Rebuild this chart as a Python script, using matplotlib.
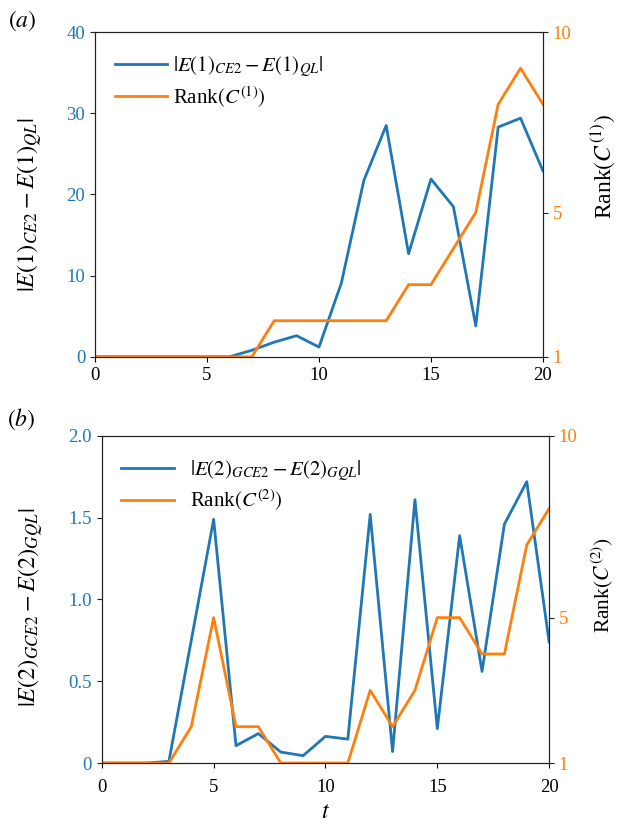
import matplotlib
matplotlib.use('Agg')
import matplotlib.pyplot as plt
from matplotlib.ticker import FuncFormatter

plt.rcParams['font.family'] = ['Liberation Serif', 'DejaVu Serif']
plt.rcParams['mathtext.fontset'] = 'stix'

t = list(range(21))

# panel (a)
err1 = [0, 0, 0, 0, 0, 0, 0, 0.8, 1.8, 2.6, 1.2, 9.1, 21.7, 28.5, 12.7, 21.9, 18.5, 3.8, 28.3, 29.4, 22.9]
rank1 = [1, 1, 1, 1, 1, 1, 1, 1, 2, 2, 2, 2, 2, 2, 3, 3, 4, 5, 8, 9, 8]

# panel (b)
err2 = [0, 0, 0, 0.01, 0.75, 1.49, 0.106, 0.18, 0.067, 0.045, 0.163, 0.146, 1.52, 0.07, 1.61, 0.21, 1.39, 0.56, 1.46, 1.72, 0.74]
rank2 = [1, 1, 1, 1, 2, 5, 2, 2, 1, 1, 1, 1, 3, 2, 3, 5, 5, 4, 4, 7, 8]

blue = '#1f77b4'
orange = '#ff7f0e'

fig = plt.figure(figsize=(6.17, 8.24), dpi=100)
ax1 = fig.add_axes([0.154, 0.567, 0.726, 0.394])
ax2 = fig.add_axes([0.165, 0.074, 0.725, 0.397])


def draw_panel(ax, err, rank, ymax, yticks, ylab, lab_err, lab_rank, rlab, tag, tag_xy):
    l1, = ax.plot(t, err, color=blue, lw=2, label=lab_err)
    ax.set_xlim(0, 20)
    ax.set_ylim(0, ymax)
    ax.set_xticks([0, 5, 10, 15, 20])
    ax.set_yticks(yticks)
    ax.tick_params(axis='y', colors=blue, labelsize=13.5)
    ax.tick_params(axis='x', labelsize=13.5)
    ax.set_ylabel(ylab, fontsize=17.5)

    axr = ax.twinx()
    l2, = axr.plot(t, rank, color=orange, lw=2, label=lab_rank)
    axr.set_ylim(1, 10)
    axr.set_yticks([1, 5, 10])
    axr.tick_params(axis='y', colors=orange, labelsize=13.5)
    axr.set_ylabel(rlab, fontsize=17)
    for a in (ax, axr):
        for s in a.spines.values():
            s.set_color('#222222')
    ax.tick_params(axis='y', color='#222222')
    axr.tick_params(axis='y', color='#222222')
    ax.text(tag_xy[0], tag_xy[1], tag, transform=ax.transAxes, fontsize=17, ha='left', va='center')
    return axr, l1, l2


axr1, a1, a2 = draw_panel(ax1, err1, rank1, 40, [0, 10, 20, 30, 40],
                          r'$|E(1)_{CE2} - E(1)_{QL}|$',
                          r'$|E(1)_{CE2} - E(1)_{QL}|$', r'Rank$(C^{(1)})$',
                          r'Rank$(C^{(1)})$', r'$(a)$', (-0.195, 1.035))
ax1.legend(handles=[a1, a2], loc='upper left', frameon=False, fontsize=15,
           handlelength=2.5, handletextpad=0.3, labelspacing=0.25,
           bbox_to_anchor=(0.002, 0.99))
ax1.yaxis.set_label_coords(-0.112, 0.468)
axr1.yaxis.set_label_coords(1.104, 0.585)

axr2, b1, b2 = draw_panel(ax2, err2, rank2, 2.0, [0, 0.5, 1.0, 1.5, 2.0],
                          r'$|E(2)_{GCE2} - E(2)_{GQL}|$',
                          r'$|E(2)_{GCE2} - E(2)_{GQL}|$', r'Rank$(C^{(2)})$',
                          r'Rank$(C^{(2)})$', r'$(b)$', (-0.213, 1.05))
ax2.legend(handles=[b1, b2], loc='upper left', frameon=False, fontsize=15,
           handlelength=2.5, handletextpad=0.8, labelspacing=0.25,
           bbox_to_anchor=(0.002, 0.99))
ax2.yaxis.set_major_formatter(FuncFormatter(lambda v, p: '0' if v == 0 else f'{v:.1f}'))
ax2.tick_params(axis='x', pad=8)
ax2.set_xlabel(r'$t$', fontsize=17, labelpad=4)
ax2.yaxis.set_label_coords(-0.125, 0.477)
axr2.yaxis.set_label_coords(1.092, 0.544)
axr2.yaxis.label.set_fontsize(15.5)

fig.savefig('out.png', dpi=100)
